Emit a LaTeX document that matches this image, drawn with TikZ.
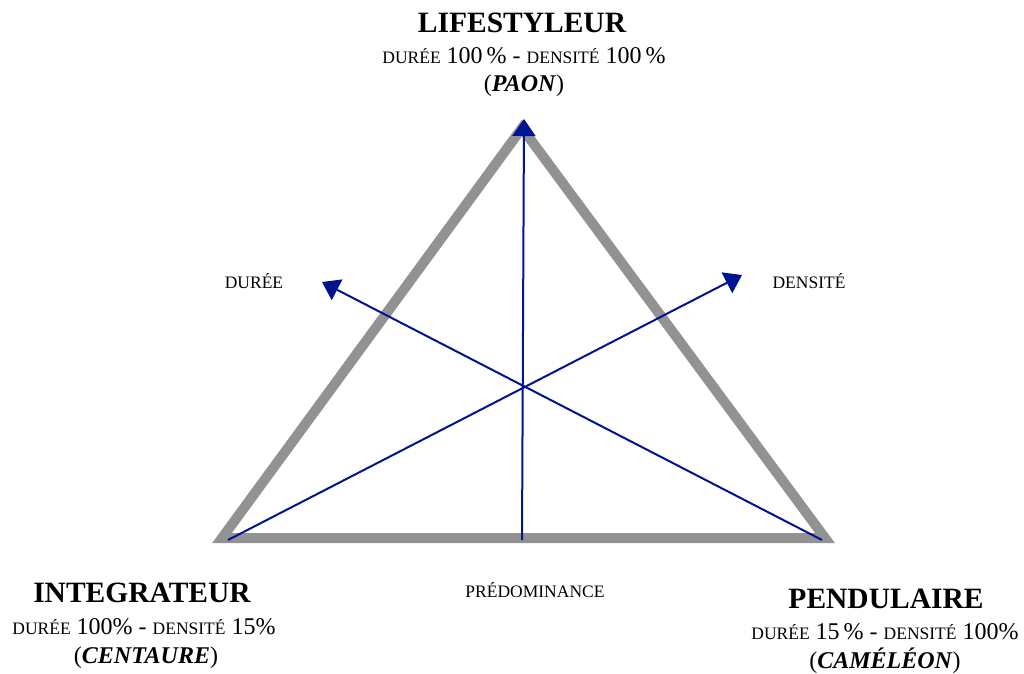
\documentclass[tikz,border=0pt]{standalone}
\usepackage{fontspec}
\setmainfont{Liberation Serif}
\usetikzlibrary{arrows.meta}
\definecolor{trigray}{RGB}{146,146,146}
\definecolor{axisblue}{RGB}{0,20,145}
\newcommand{\smc}[1]{{\fontsize{17.5}{18}\selectfont #1}}
\tikzset{
  title/.style={font=\fontsize{29.5}{30}\selectfont\bfseries, anchor=base, inner sep=0pt},
  info/.style={font=\fontsize{24}{24}\selectfont, anchor=base, inner sep=0pt},
  axislabel/.style={font=\fontsize{17.5}{18}\selectfont, anchor=base, inner sep=0pt},
  tri/.style={draw=trigray, line width=10pt, line join=miter},
  axis/.style={draw=axisblue, line width=2pt, -{Triangle[length=17pt,width=23pt]}},
}
\begin{document}
\begin{tikzpicture}[x=1pt,y=-1pt]
\useasboundingbox (0,0) rectangle (1024,673);
% triangle vertices
\coordinate (A) at (522,128);
\coordinate (B) at (222,538);
\coordinate (C) at (825,538);
\draw[tri] (A) -- (B) -- (C) -- cycle;
% axis end points
\coordinate (vb) at (522,540);
\coordinate (vt) at (524,119);
\coordinate (ds) at (822,540);
\coordinate (dt) at (322,282);
\coordinate (ns) at (228,540);
\coordinate (nt) at (742,275);
\draw[axis] (vb) -- (vt);
\draw[axis] (ds) -- (dt);
\draw[axis] (ns) -- (nt);
% axis labels
\node[axislabel] (lduree) at (254,288) {DURÉE};
\node[axislabel] (ldens) at (809,288) {DENSITÉ};
\node[axislabel] (lpred) at (535,597) {PRÉDOMINANCE};
% top
\node[title] (life) at (522,32) {LIFESTYLEUR};
\node[info] (life2) at (524,63) {\smc{DURÉE} 100\,\% - \smc{DENSITÉ} 100\,\%};
\node[info] (life3) at (524,91) {(\textbf{\textit{PAON}})};
% bottom left
\node[title] (integ) at (142,602) {INTEGRATEUR};
\node[info] (integ2) at (144,634) {\smc{DURÉE} 100\% - \smc{DENSITÉ} 15\%};
\node[info] (integ3) at (146,663) {(\textbf{\textit{CENTAURE}})};
% bottom right
\node[title] (pend) at (886,608) {PENDULAIRE};
\node[info] (pend2) at (885,639) {\smc{DURÉE} 15\,\% - \smc{DENSITÉ} 100\%};
\node[info] (pend3) at (885,668) {(\textbf{\textit{CAMÉLÉON}})};
\end{tikzpicture}
\end{document}
